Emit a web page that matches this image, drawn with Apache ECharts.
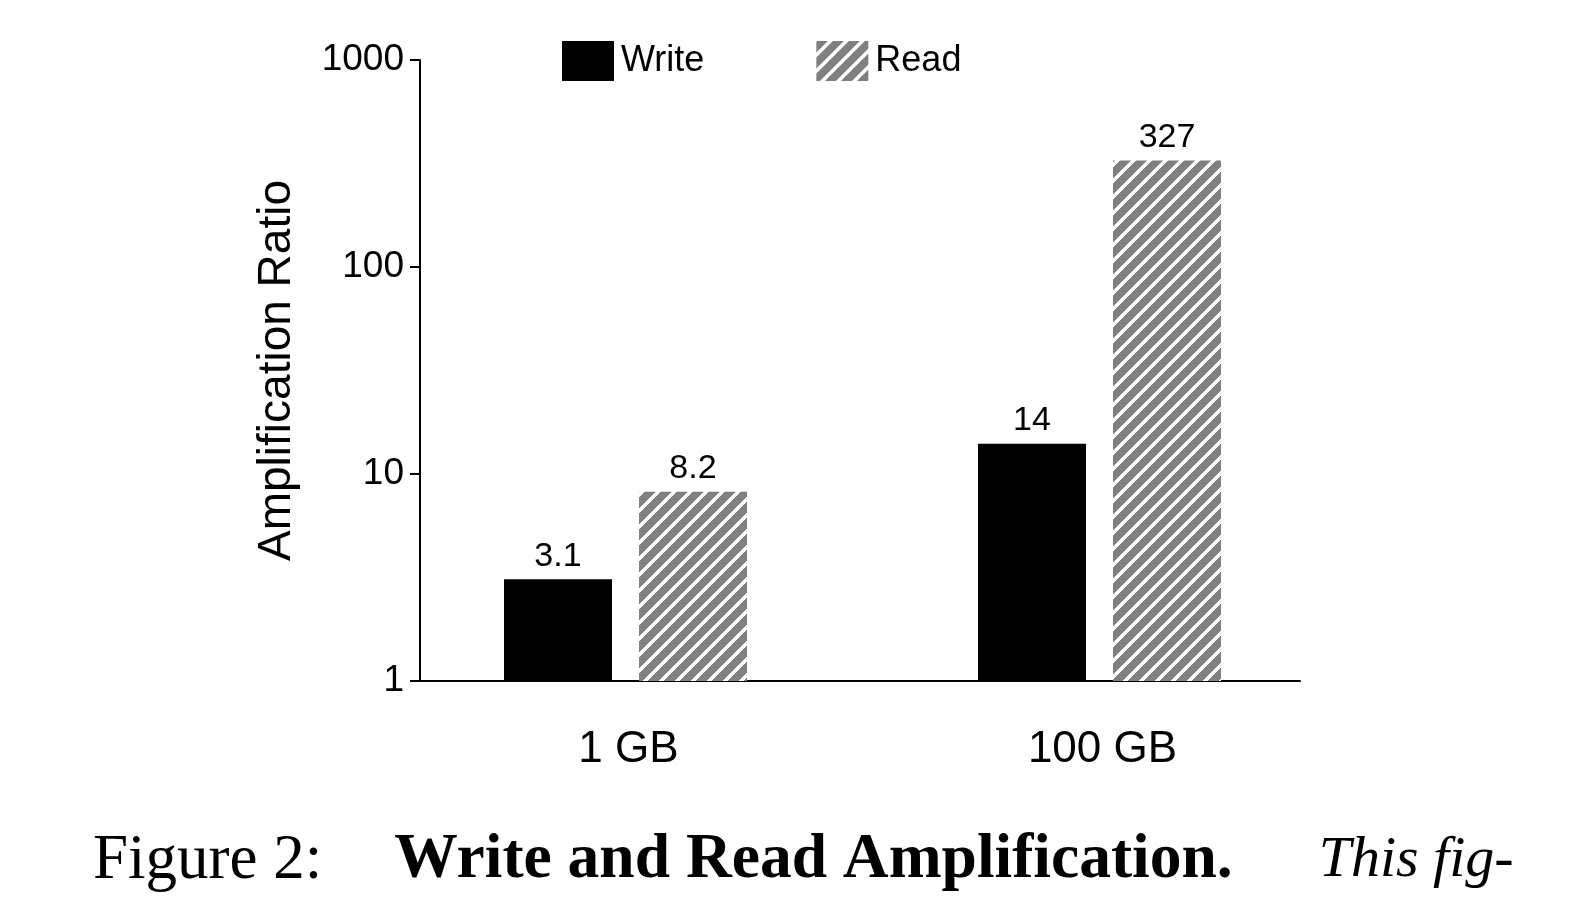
<!DOCTYPE html>
<html lang="en">
<head>
    <meta charset="UTF-8">
    <title>Write and Read Amplification</title>
    <script src="https://cdn.jsdelivr.net/npm/echarts@6/dist/echarts.min.js"></script>
    <style>
        html, body { margin: 0; padding: 0; background: #fff; }
        #main { width: 1572px; height: 900px; }
    </style>
</head>
<body>
<div id="main"></div>
<script>
    // data
    var categories = ['1 GB', '100 GB'];
    var writeValues = [3.1, 14];
    var readValues = [8.2, 327];
    var seriesNames = ['Write', 'Read'];

    // grey diagonal hatch ("/") for the Read bars, filled pixel by pixel so it tiles cleanly
    function hatch() {
        var s = 16, w = 11;
        var c = document.createElement('canvas');
        c.width = s; c.height = s;
        var ctx = c.getContext('2d');
        ctx.fillStyle = '#fff';
        ctx.fillRect(0, 0, s, s);
        ctx.fillStyle = '#808080';
        for (var x = 0; x < s; x++) {
            for (var y = 0; y < s; y++) {
                if ((x + y) % s < w) ctx.fillRect(x, y, 1, 1);
            }
        }
        return c;
    }

    var sansFont = 'Liberation Sans, Arial, Helvetica, sans-serif';
    var serifFont = 'Liberation Serif, Times New Roman, serif';

    var labelStyle = {
        show: true,
        position: 'top',
        distance: 6,
        color: '#000',
        fontSize: 34,
        fontFamily: sansFont
    };

    var myChart = echarts.init(document.getElementById('main'));
    myChart.setOption({
        animation: false,
        backgroundColor: '#fff',
        title: {
            left: 88,
            top: 824,
            text: '{n|Figure 2:}{b|Write and Read Amplification.}{i|This fig-}',
            textStyle: {
                fontWeight: 'normal',
                rich: {
                    n: { fontFamily: serifFont, fontSize: 63, fontWeight: 'normal', color: '#000' },
                    b: { fontFamily: serifFont, fontSize: 63.5, fontWeight: 'bold', color: '#000', padding: [0, 0, 0, 72] },
                    i: { fontFamily: serifFont, fontSize: 58, fontWeight: 'normal', fontStyle: 'italic', color: '#000', padding: [0, 0, 0, 86] }
                }
            }
        },
        legend: {
            top: 36,
            left: 557,
            icon: 'rect',
            itemWidth: 52,
            itemHeight: 40,
            itemGap: 112,
            textStyle: { fontSize: 36, color: '#000', fontFamily: sansFont, padding: [4, 0, 0, 2] },
            data: seriesNames
        },
        grid: [
            // grid for the bars (wider, so the groups sit where they do in the figure)
            { left: 388.5, width: 948, top: 60, height: 621 },
            // grid for the visible axes
            { left: 420, width: 880, top: 60, height: 621 }
        ],
        xAxis: [
            {
                type: 'category',
                gridIndex: 0,
                data: categories,
                axisLine: { show: false },
                axisTick: { show: false },
                axisLabel: { fontSize: 44, color: '#000', fontFamily: sansFont, margin: 47, padding: [0, 0, 0, 6] }
            },
            {
                type: 'value',
                gridIndex: 1,
                min: 0,
                max: 1,
                axisLine: { show: true, lineStyle: { color: '#000', width: 2 } },
                axisTick: { show: false },
                axisLabel: { show: false },
                splitLine: { show: false }
            }
        ],
        yAxis: [
            {
                type: 'log',
                gridIndex: 0,
                logBase: 10,
                min: 1,
                max: 1000,
                show: false
            },
            {
                type: 'log',
                gridIndex: 1,
                logBase: 10,
                min: 1,
                max: 1000,
                name: 'Amplification Ratio',
                nameLocation: 'middle',
                nameGap: 120,
                nameTextStyle: { fontSize: 46, color: '#000', fontFamily: sansFont },
                axisLine: { show: true, lineStyle: { color: '#000', width: 2 } },
                axisTick: { show: true, length: 10, lineStyle: { color: '#000', width: 2 } },
                axisLabel: {
                    fontSize: 37,
                    color: '#000',
                    fontFamily: sansFont,
                    margin: 16,
                    padding: [4, 0, 0, 0],
                    formatter: function (v) { return String(v); }
                },
                splitLine: { show: false }
            }
        ],
        series: [
            {
                name: seriesNames[0],
                type: 'bar',
                xAxisIndex: 0,
                yAxisIndex: 0,
                barWidth: 108,
                barGap: '25%',
                itemStyle: { color: '#000' },
                label: labelStyle,
                data: writeValues
            },
            {
                name: seriesNames[1],
                type: 'bar',
                xAxisIndex: 0,
                yAxisIndex: 0,
                barWidth: 108,
                barGap: '25%',
                itemStyle: { color: { image: hatch(), repeat: 'repeat' } },
                label: labelStyle,
                data: readValues
            }
        ]
    });
</script>
</body>
</html>
